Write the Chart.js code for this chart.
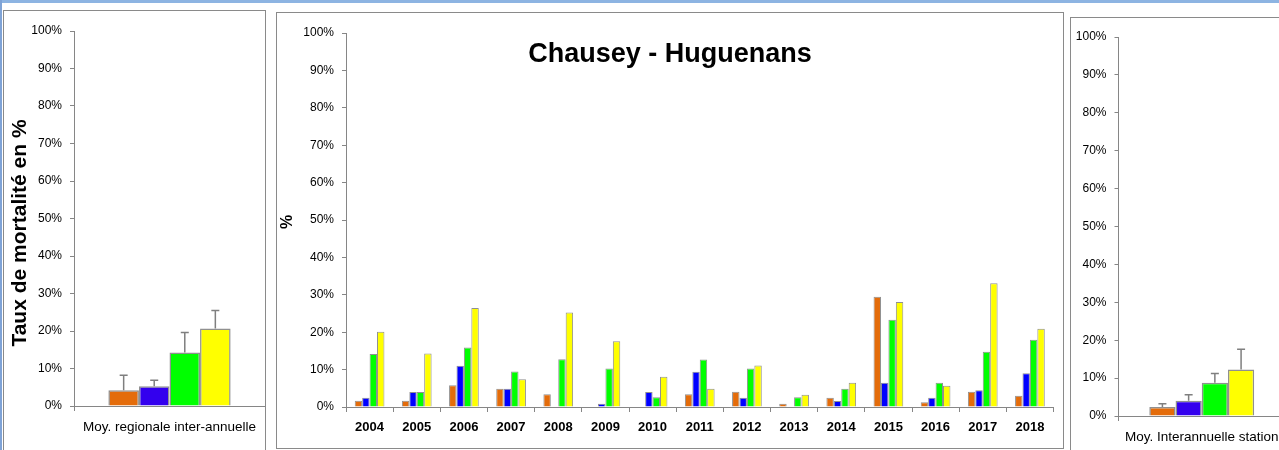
<!DOCTYPE html>
<html><head><meta charset="utf-8">
<script src="https://cdn.jsdelivr.net/npm/chart.js@4.4.1/dist/chart.umd.min.js"></script>
<style>
html,body{margin:0;padding:0;background:#fff;}
body{width:1279px;height:450px;overflow:hidden;position:relative;}
.topline{position:absolute;left:0;top:0;width:1279px;height:3px;background:#8DB4E2;}
.leftline{position:absolute;left:0;top:0;width:2px;height:450px;background:#7FA3D6;}
.panel{position:absolute;border:1px solid #8a8a8a;background:#fff;box-sizing:content-box;overflow:hidden;}
canvas{display:block;}
</style></head><body>
<div class="topline"></div><div class="leftline"></div>
<div class="panel" style="left:3px;top:10px;width:261px;height:460px;"><canvas id="cL" width="261" height="439"></canvas></div>
<div class="panel" style="left:276px;top:12px;width:786px;height:435px;"><canvas id="cM" width="786" height="435"></canvas></div>
<div class="panel" style="left:1070px;top:17px;width:260px;height:460px;"><canvas id="cR" width="240" height="432"></canvas></div>
<script>
// ---------- DATA ----------
const seriesNames = ['Série 1', 'Série 2', 'Série 3', 'Série 4'];
const years = ['2004','2005','2006','2007','2008','2009','2010','2011','2012','2013','2014','2015','2016','2017','2018'];
const serie1 = [1.7, 1.7, 5.8, 4.9, 3.4, null, null, 3.4, 4.1, 0.9, 2.5, 29.5, 1.3, 4.1, 3.0];
const serie2 = [2.5, 4.0, 11.0, 4.9, null, 0.9, 4.0, 9.4, 2.5, null, 1.6, 6.5, 2.5, 4.5, 9.0];
const serie3 = [14.2, 4.0, 15.9, 9.5, 12.8, 10.3, 2.6, 12.7, 10.3, 2.6, 4.9, 23.3, 6.5, 14.8, 18.0];
const serie4 = [20.1, 14.3, 26.5, 7.4, 25.3, 17.6, 8.1, 4.9, 11.1, 3.3, 6.5, 28.1, 5.7, 33.1, 20.9];

const regionalLabel = ['Moy. regionale inter-annuelle'];
const regionalMeans = [4.2, 5.3, 14.3, 20.7];
const regionalErrors = [4.0, 1.6, 5.3, 4.8];

const stationLabel = ['Moy. Interannuelle station'];
const stationMeans = [2.4, 4.0, 8.8, 12.3];
const stationErrors = [0.8, 1.6, 2.4, 5.3];

const yTicks = [0,10,20,30,40,50,60,70,80,90,100];
const chartTitle = 'Chausey - Huguenans';
const yTitleLeft = 'Taux de mortalité en %';
const yTitleMid = '%';

// ---------- STYLE ----------
const SANS = "'Liberation Sans', Arial, sans-serif";
function hasFont(name){
  const c = document.createElement('canvas').getContext('2d');
  c.font = '20px monospace'; const a = c.measureText('abcdefghijklmnopWM').width;
  c.font = "20px '" + name + "', monospace"; const b = c.measureText('abcdefghijklmnopWM').width;
  return a !== b;
}
const NARROW = hasFont('Liberation Sans Narrow');
const NARROW_FAM = "'Liberation Sans Narrow', 'Liberation Sans', Arial, sans-serif";
const titleFont = NARROW ? ('bold 33px ' + NARROW_FAM) : ('bold 27px ' + SANS);
const yearFont = NARROW ? {family: NARROW_FAM, size: 16, weight: 'bold'} : {family: SANS, size: 13, weight: 'bold'};

const ORANGE = '#E46C0A', BLUE_SIDE = '#3300EE', BLUE_MID = '#0000FF', GREEN = '#00FF00', YELLOW = '#FFFF00';
const AXIS = '#868686';

const errorBars = {
  id: 'errorBars',
  afterDatasetsDraw(chart) {
    const y = chart.scales.y, ctx = chart.ctx;
    ctx.save(); ctx.strokeStyle = '#7F7F7F'; ctx.lineWidth = 1.5;
    chart.data.datasets.forEach((ds, i) => {
      if (!ds.errors) return;
      chart.getDatasetMeta(i).data.forEach((bar, j) => {
        const v = ds.data[j], e = ds.errors[j];
        if (v == null || e == null) return;
        const y0 = y.getPixelForValue(v), y1 = y.getPixelForValue(v + e);
        ctx.beginPath();
        ctx.moveTo(bar.x, y0); ctx.lineTo(bar.x, y1);
        ctx.moveTo(bar.x - 4, y1); ctx.lineTo(bar.x + 4, y1);
        ctx.stroke();
      });
    });
    ctx.restore();
  }
};
function textPlugin(items){
  return { id: 'overlayText', afterDraw(chart){
    const ctx = chart.ctx;
    items.forEach(it => {
      ctx.save(); ctx.translate(it.x, it.y); ctx.rotate(it.rotation || 0);
      ctx.font = it.font; ctx.fillStyle = '#000'; ctx.textAlign = 'center'; ctx.textBaseline = 'middle';
      ctx.fillText(it.text, 0, 0); ctx.restore();
    });
  }};
}
function yScale(width){
  return {
    min: 0, max: 100,
    afterBuildTicks: s => { s.ticks = yTicks.map(v => ({value: v})); },
    ticks: { callback: v => v + '%', color: '#000', font: {family: SANS, size: 12}, padding: 8 },
    grid: { display: true, drawOnChartArea: false, drawTicks: true, tickLength: 4, color: AXIS },
    border: { display: true, color: AXIS, width: 1 },
    afterFit: s => { s.width = width; }
  };
}
function xScale(height, font){
  return {
    grid: { display: true, drawOnChartArea: false, drawTicks: true, tickLength: 5, color: AXIS, offset: true },
    border: { display: true, color: AXIS, width: 1 },
    ticks: { color: '#000', font: font, padding: 8, maxRotation: 0, autoSkip: false },
    afterFit: s => { s.height = height; }
  };
}
function ds(label, data, color, extra){
  return Object.assign({ label, data, backgroundColor: color, borderColor: '#909090', borderWidth: 1,
    barPercentage: 1, categoryPercentage: 0.64, borderSkipped: 'bottom' }, extra || {});
}
function baseOptions(padding, yW, xH, xFont){
  return {
    responsive: false, maintainAspectRatio: false, animation: false, devicePixelRatio: 1,
    layout: { padding },
    plugins: { legend: {display: false}, tooltip: {enabled: false}, title: {display: false} },
    scales: { x: xScale(xH, xFont), y: yScale(yW) }
  };
}

// Left panel
new Chart(document.getElementById('cL'), {
  type: 'bar',
  data: { labels: regionalLabel, datasets: [
    ds(seriesNames[0], [regionalMeans[0]], ORANGE, {errors: [regionalErrors[0]], borderWidth: 1.5}),
    ds(seriesNames[1], [regionalMeans[1]], BLUE_SIDE, {errors: [regionalErrors[1]], borderWidth: 1.5}),
    ds(seriesNames[2], [regionalMeans[2]], GREEN, {errors: [regionalErrors[2]], borderWidth: 1.5}),
    ds(seriesNames[3], [regionalMeans[3]], YELLOW, {errors: [regionalErrors[3]], borderWidth: 1.5})
  ]},
  options: baseOptions({top: 20, left: 0, right: 0, bottom: 0}, 70, 44, {family: SANS, size: 13.5}),
  plugins: [errorBars, textPlugin([{text: yTitleLeft, x: 16, y: 222, rotation: -Math.PI/2, font: 'bold 21px ' + SANS}])]
});

// Middle panel
new Chart(document.getElementById('cM'), {
  type: 'bar',
  data: { labels: years, datasets: [
    ds(seriesNames[0], serie1, ORANGE, {categoryPercentage: 0.63}),
    ds(seriesNames[1], serie2, BLUE_MID, {categoryPercentage: 0.63}),
    ds(seriesNames[2], serie3, GREEN, {categoryPercentage: 0.63}),
    ds(seriesNames[3], serie4, YELLOW, {categoryPercentage: 0.63})
  ]},
  options: baseOptions({top: 20, left: 0, right: 9.5, bottom: 0}, 69, 41, yearFont),
  plugins: [textPlugin([
    {text: chartTitle, x: 393, y: 42, font: titleFont},
    {text: yTitleMid, x: 11, y: 209, rotation: -Math.PI/2, font: 'bold 16px ' + SANS}
  ])]
});

// Right panel
new Chart(document.getElementById('cR'), {
  type: 'bar',
  data: { labels: stationLabel, datasets: [
    ds(seriesNames[0], [stationMeans[0]], ORANGE, {errors: [stationErrors[0]], borderWidth: 1.5, categoryPercentage: 0.63}),
    ds(seriesNames[1], [stationMeans[1]], BLUE_SIDE, {errors: [stationErrors[1]], borderWidth: 1.5, categoryPercentage: 0.63}),
    ds(seriesNames[2], [stationMeans[2]], GREEN, {errors: [stationErrors[2]], borderWidth: 1.5, categoryPercentage: 0.63}),
    ds(seriesNames[3], [stationMeans[3]], YELLOW, {errors: [stationErrors[3]], borderWidth: 1.5, categoryPercentage: 0.63})
  ]},
  options: baseOptions({top: 19, left: 0, right: 26, bottom: 0}, 47.5, 34, {family: SANS, size: 13.5}),
  plugins: [errorBars]
});
</script>
</body></html>
